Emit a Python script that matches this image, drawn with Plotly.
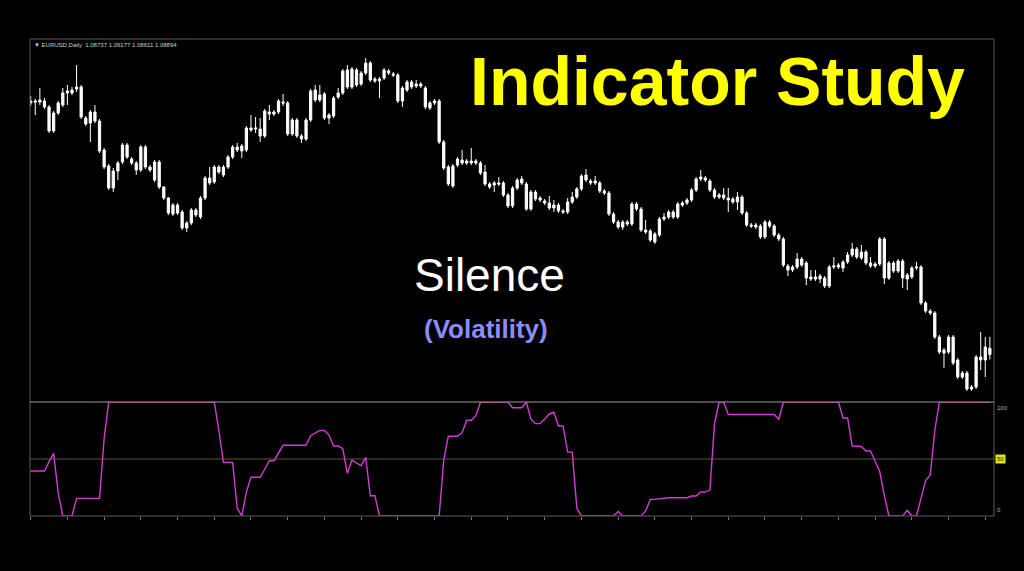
import plotly.graph_objects as go

# ---------------- data ----------------
bars = list(range(210))

opens = [
    1.15025, 1.15075, 1.1505, 1.15075, 1.14925, 1.14325, 1.14775, 1.14975, 1.15325, 1.15275,
    1.15375, 1.15425, 1.1465, 1.14525, 1.148, 1.14575, 1.1385, 1.1345, 1.129, 1.13325,
    1.1355, 1.13975, 1.13625, 1.13525, 1.1335, 1.13925, 1.13425, 1.131, 1.1355, 1.12925,
    1.1265, 1.1225, 1.12475, 1.123, 1.119, 1.12025, 1.1235, 1.12175, 1.1265, 1.1315,
    1.1305, 1.13425, 1.13225, 1.13425, 1.13675, 1.13925, 1.13825, 1.1385, 1.144, 1.14375,
    1.14375, 1.142, 1.148, 1.1475, 1.148, 1.1505, 1.15025, 1.1425, 1.146, 1.142,
    1.14125, 1.146, 1.1535, 1.151, 1.1525, 1.1465, 1.147, 1.15175, 1.15275, 1.1585,
    1.15425, 1.1585, 1.155, 1.15775, 1.16025, 1.15625, 1.15575, 1.1565, 1.15825, 1.1575,
    1.15725, 1.15075, 1.1535, 1.1555, 1.1545, 1.155, 1.154, 1.149, 1.15025, 1.15075,
    1.1405, 1.13425, 1.1295, 1.13475, 1.136, 1.13525, 1.13575, 1.13525, 1.13525, 1.133,
    1.13, 1.12975, 1.13025, 1.13025, 1.12725, 1.1245, 1.129, 1.13125, 1.13, 1.12375,
    1.128, 1.1265, 1.12575, 1.12525, 1.124, 1.12475, 1.12325, 1.123, 1.1255, 1.12675,
    1.12875, 1.13225, 1.13075, 1.13025, 1.13025, 1.12825, 1.12775, 1.1225, 1.1205, 1.11925,
    1.1205, 1.12, 1.125, 1.12375, 1.1185, 1.11825, 1.1155, 1.11725, 1.12125, 1.12175,
    1.123, 1.12175, 1.12475, 1.12525, 1.126, 1.1285, 1.13125, 1.1315, 1.13075, 1.1285,
    1.12675, 1.12725, 1.1265, 1.12625, 1.1255, 1.12675, 1.12275, 1.11975, 1.11925, 1.1195,
    1.11675, 1.1205, 1.1195, 1.11725, 1.11625, 1.1095, 1.1085, 1.10925, 1.11125, 1.11025,
    1.10675, 1.10625, 1.107, 1.1065, 1.1045, 1.10925, 1.10925, 1.109, 1.1105, 1.11225,
    1.11375, 1.1115, 1.113, 1.11025, 1.1095, 1.11, 1.11625, 1.1065, 1.11025, 1.10825,
    1.11075, 1.10725, 1.10675, 1.109, 1.10925, 1.10025, 1.09825, 1.09775, 1.09175, 1.08775,
    1.088, 1.09175, 1.086, 1.08175, 1.08275, 1.07875, 1.07925, 1.08675, 1.086, 1.08737,
]
highs = [
    1.152, 1.15125, 1.154, 1.1515, 1.14975, 1.14825, 1.15075, 1.154, 1.15475, 1.15425,
    1.15975, 1.15475, 1.147, 1.1485, 1.14975, 1.14625, 1.139, 1.135, 1.134, 1.13575,
    1.14025, 1.14025, 1.13675, 1.13575, 1.13975, 1.13975, 1.13475, 1.136, 1.136, 1.1295,
    1.12675, 1.12525, 1.12525, 1.1235, 1.12075, 1.124, 1.124, 1.127, 1.132, 1.13425,
    1.13475, 1.13475, 1.13475, 1.13725, 1.13975, 1.14025, 1.14, 1.1445, 1.14725, 1.14675,
    1.1465, 1.14875, 1.14975, 1.1485, 1.15125, 1.1525, 1.15075, 1.1465, 1.1465, 1.1425,
    1.1465, 1.15375, 1.15475, 1.15475, 1.153, 1.14775, 1.152, 1.154, 1.15875, 1.15975,
    1.15925, 1.159, 1.15825, 1.1615, 1.16075, 1.15675, 1.15675, 1.159, 1.15875, 1.158,
    1.15775, 1.1545, 1.156, 1.156, 1.156, 1.1555, 1.1545, 1.15075, 1.15125, 1.15125,
    1.141, 1.13475, 1.135, 1.13675, 1.1385, 1.13625, 1.139, 1.13625, 1.13575, 1.13475,
    1.1305, 1.13075, 1.13175, 1.13075, 1.12775, 1.1295, 1.1315, 1.132, 1.1305, 1.1285,
    1.1285, 1.127, 1.12625, 1.127, 1.126, 1.12525, 1.12375, 1.1265, 1.128, 1.12925,
    1.1325, 1.13375, 1.13125, 1.132, 1.13075, 1.12875, 1.12825, 1.123, 1.121, 1.121,
    1.121, 1.1255, 1.1255, 1.12425, 1.121, 1.11875, 1.118, 1.12175, 1.12275, 1.1235,
    1.1235, 1.1255, 1.12575, 1.1265, 1.129, 1.13175, 1.1335, 1.132, 1.13125, 1.129,
    1.12775, 1.129, 1.129, 1.12675, 1.128, 1.12725, 1.12325, 1.12025, 1.12025, 1.12,
    1.121, 1.121, 1.12, 1.11775, 1.11675, 1.11, 1.10975, 1.11275, 1.11175, 1.11075,
    1.1085, 1.1085, 1.1075, 1.107, 1.10975, 1.11175, 1.11025, 1.111, 1.113, 1.11525,
    1.11425, 1.11475, 1.1135, 1.11175, 1.1105, 1.11675, 1.11675, 1.11075, 1.11075, 1.11125,
    1.11125, 1.10775, 1.1095, 1.1105, 1.10975, 1.10075, 1.09875, 1.09825, 1.09225, 1.089,
    1.09225, 1.09225, 1.0865, 1.08325, 1.08325, 1.07975, 1.08725, 1.093, 1.09175, 1.09177,
]
lows = [
    1.1495, 1.14725, 1.14975, 1.14875, 1.14275, 1.14275, 1.14725, 1.14925, 1.14975, 1.15225,
    1.153, 1.14625, 1.1445, 1.1405, 1.14525, 1.13775, 1.13375, 1.1285, 1.128, 1.131,
    1.135, 1.13625, 1.13475, 1.13225, 1.133, 1.13375, 1.133, 1.1305, 1.12875, 1.126,
    1.12225, 1.122, 1.12225, 1.1185, 1.118, 1.11975, 1.12175, 1.12125, 1.126, 1.12975,
    1.13, 1.1325, 1.13175, 1.13375, 1.13625, 1.138, 1.1365, 1.138, 1.143, 1.14275,
    1.1405, 1.1415, 1.146, 1.147, 1.1475, 1.1495, 1.142, 1.142, 1.1415, 1.14025,
    1.14075, 1.1455, 1.1505, 1.1505, 1.146, 1.145, 1.1465, 1.15125, 1.15225, 1.15375,
    1.15375, 1.15425, 1.1545, 1.15725, 1.1555, 1.15525, 1.1515, 1.156, 1.15725, 1.15675,
    1.15025, 1.14925, 1.153, 1.15375, 1.154, 1.154, 1.14875, 1.1485, 1.14975, 1.14,
    1.1335, 1.1295, 1.129, 1.13425, 1.13475, 1.13475, 1.13475, 1.13475, 1.13225, 1.1295,
    1.12875, 1.128, 1.1295, 1.12675, 1.124, 1.124, 1.1285, 1.12975, 1.12325, 1.12325,
    1.12575, 1.1255, 1.12475, 1.1235, 1.123, 1.12275, 1.1225, 1.1225, 1.125, 1.12625,
    1.12825, 1.1305, 1.12975, 1.12975, 1.12775, 1.12725, 1.122, 1.12, 1.11875, 1.1185,
    1.1195, 1.1195, 1.12325, 1.118, 1.1175, 1.1155, 1.115, 1.11675, 1.12075, 1.12125,
    1.12125, 1.12125, 1.12425, 1.12475, 1.1255, 1.128, 1.13075, 1.1305, 1.128, 1.12625,
    1.12625, 1.126, 1.123, 1.125, 1.1235, 1.12225, 1.11925, 1.119, 1.11875, 1.11625,
    1.11625, 1.119, 1.11675, 1.11575, 1.10925, 1.107, 1.108, 1.10875, 1.10925, 1.10475,
    1.10575, 1.10575, 1.10525, 1.104, 1.104, 1.10875, 1.10875, 1.108, 1.11, 1.11175,
    1.11125, 1.111, 1.10975, 1.109, 1.109, 1.1095, 1.105, 1.106, 1.10775, 1.10775,
    1.104, 1.1035, 1.10625, 1.1085, 1.09975, 1.09775, 1.09725, 1.09125, 1.0875, 1.084,
    1.0875, 1.08475, 1.08125, 1.08125, 1.07825, 1.07825, 1.07875, 1.0835, 1.08175, 1.08611,
]
closes = [
    1.15075, 1.1505, 1.151, 1.14925, 1.14325, 1.14775, 1.15025, 1.15275, 1.15275, 1.1535,
    1.15425, 1.14675, 1.145, 1.148, 1.14575, 1.13825, 1.13425, 1.129, 1.13325, 1.13525,
    1.13975, 1.13675, 1.13525, 1.1335, 1.13925, 1.13425, 1.1335, 1.1355, 1.12925, 1.1265,
    1.12275, 1.12475, 1.12275, 1.119, 1.12025, 1.1235, 1.12225, 1.1265, 1.1315, 1.13025,
    1.13425, 1.133, 1.13425, 1.13675, 1.13925, 1.1385, 1.1395, 1.144, 1.1435, 1.144,
    1.142, 1.14825, 1.1475, 1.148, 1.15075, 1.15025, 1.1425, 1.146, 1.142, 1.14125,
    1.146, 1.15325, 1.151, 1.15225, 1.1465, 1.14725, 1.1515, 1.15275, 1.15825, 1.15425,
    1.15875, 1.15475, 1.15775, 1.16025, 1.156, 1.15575, 1.15625, 1.1585, 1.15775, 1.15725,
    1.15075, 1.154, 1.1555, 1.15425, 1.155, 1.1545, 1.14925, 1.15025, 1.15075, 1.1405,
    1.134, 1.13, 1.1345, 1.13625, 1.13525, 1.13575, 1.13525, 1.13575, 1.13275, 1.13,
    1.12925, 1.13025, 1.13, 1.12725, 1.1245, 1.129, 1.131, 1.13025, 1.12375, 1.128,
    1.12625, 1.126, 1.12525, 1.124, 1.12475, 1.12325, 1.123, 1.1255, 1.12675, 1.12875,
    1.132, 1.131, 1.13025, 1.13075, 1.12825, 1.12775, 1.1225, 1.1205, 1.11925, 1.1205,
    1.12, 1.125, 1.12375, 1.1185, 1.118, 1.116, 1.1175, 1.12125, 1.12175, 1.123,
    1.12175, 1.125, 1.12525, 1.126, 1.1285, 1.13125, 1.13175, 1.131, 1.1285, 1.12675,
    1.12725, 1.1265, 1.126, 1.1255, 1.12675, 1.12275, 1.11975, 1.1195, 1.11975, 1.11675,
    1.1205, 1.1195, 1.11725, 1.11625, 1.10975, 1.1085, 1.10925, 1.11125, 1.10975, 1.1065,
    1.10625, 1.10675, 1.10625, 1.1045, 1.10925, 1.1095, 1.10975, 1.1105, 1.11225, 1.11375,
    1.11175, 1.113, 1.11025, 1.1095, 1.11, 1.11625, 1.1065, 1.11025, 1.10825, 1.11075,
    1.1065, 1.10625, 1.109, 1.10925, 1.10025, 1.09825, 1.09775, 1.09175, 1.088, 1.0885,
    1.09175, 1.08525, 1.08175, 1.08275, 1.07875, 1.07925, 1.08675, 1.086, 1.08925, 1.08894,
]

silence = [
    39.5, 39.5, 39.5, 39.5, 47.7, 55, 20, 0, 0, 0,
    15.5, 15.5, 15.5, 15.5, 15.5, 15.5, 68, 100, 100, 100,
    100, 100, 100, 100, 100, 100, 100, 100, 100, 100,
    100, 100, 100, 100, 100, 100, 100, 100, 100, 100,
    100, 75, 47, 47, 47, 7, 0, 21, 34, 34,
    34, 41, 48.5, 48.5, 55, 62, 62, 62, 62, 62,
    62, 70.5, 73, 75, 75, 71, 61.4, 61.4, 59, 37.4,
    49, 46.5, 44, 51.5, 17.8, 17.8, 0, 0, 0, 0,
    0, 0, 0, 0, 0, 0, 0, 0, 0, 0,
    49, 70, 70, 70, 73, 84, 84, 88, 100, 100,
    100, 100, 100, 100, 100, 95, 95, 95, 100, 85,
    81, 81, 85, 89.5, 91, 79, 79, 56, 56, 7,
    0, 0, 0, 0, 0, 0, 0, 0, 4, 0,
    0, 0, 0, 0, 4.4, 14.6, 14.6, 15, 16, 16,
    16, 16, 16, 16, 17.5, 17.5, 21, 21, 23, 81,
    100, 100, 89, 89, 89, 89, 89, 89, 89, 89,
    89, 89, 89, 85, 100, 100, 100, 100, 100, 100,
    100, 100, 100, 100, 100, 100, 100, 86, 86, 61.4,
    61, 61, 57, 57, 48, 39, 18, 0, 0, 0,
    0, 5, 0, 0, 15.5, 31, 36, 75, 100, 100,
    100, 100, 100, 100, 100, 100, 100, 100, 100, 100,
]

level_ticks = ["100", "50", "0"]
level_values = [100, 50, 0]
header_text = "▼ EURUSD,Daily  1.08737 1.09177 1.08611 1.08894"
title_text = "Indicator Study"
name_text = "Silence"
sub_text = "(Volatility)"

# ---------------- figure ----------------
LOWER = 114 / 477
FONT = "Liberation Sans, Arial, Helvetica, sans-serif"

fig = go.Figure()
fig.add_trace(go.Candlestick(
    x=bars, open=opens, high=highs, low=lows, close=closes,
    increasing=dict(line=dict(color="#ffffff", width=1), fillcolor="#ffffff"),
    decreasing=dict(line=dict(color="#ffffff", width=1), fillcolor="#ffffff"),
    whiskerwidth=0, xaxis="x", yaxis="y", showlegend=False, hoverinfo="skip",
))
fig.add_trace(go.Scatter(
    x=bars, y=silence, mode="lines", line=dict(color="#d23cd2", width=1.4),
    xaxis="x2", yaxis="y2", showlegend=False, cliponaxis=False, hoverinfo="skip",
))

xr = [-0.15, 209.9]
fig.update_layout(
    width=1024, height=571,
    margin=dict(l=30, r=30, t=39, b=55),
    paper_bgcolor="#000000", plot_bgcolor="#000000",
    showlegend=False,
    xaxis=dict(domain=[0, 1], range=xr, anchor="y", visible=False,
               rangeslider=dict(visible=False)),
    yaxis=dict(domain=[LOWER, 1], range=[1.0755, 1.16625], visible=False),
    xaxis2=dict(domain=[0, 1], range=xr, anchor="y2", showticklabels=False,
                ticks="outside", ticklen=3, tickcolor="#777777", tick0=8, dtick=8,
                showgrid=False, zeroline=False, showline=False),
    yaxis2=dict(domain=[0, LOWER], range=[0, 100], visible=False),
    shapes=[
        dict(type="line", xref="paper", yref="y2", x0=0, x1=1, y0=50, y1=50,
             line=dict(color="#5a5a23", width=1), layer="below"),
        dict(type="rect", xref="paper", yref="paper", x0=0, x1=1, y0=0, y1=1,
             line=dict(color="#5c5c5c", width=1)),
        dict(type="line", xref="paper", yref="paper", x0=0, x1=1, y0=LOWER, y1=LOWER,
             line=dict(color="#9a9a9a", width=1)),
    ],
)

annos = [
    dict(text=header_text, xref="paper", yref="paper", x=0, y=1, xanchor="left",
         yanchor="top", xshift=2, yshift=-1, showarrow=False,
         font=dict(family=FONT, size=6, color="#cfcfcf")),
    dict(text=title_text, xref="paper", yref="paper", x=0.7127, y=0.912,
         xanchor="center", yanchor="middle", showarrow=False,
         font=dict(family=FONT, size=68, color="#ffff00", weight="bold")),
    dict(text=name_text, xref="paper", yref="paper", x=0.477, y=0.505,
         xanchor="center", yanchor="middle", showarrow=False,
         font=dict(family=FONT, size=46, color="#ffffff")),
    dict(text=sub_text, xref="paper", yref="paper", x=0.4735, y=0.392,
         xanchor="center", yanchor="middle", showarrow=False,
         font=dict(family=FONT, size=26, color="#8c8cff", weight="bold")),
]
for lab, val in zip(level_ticks, level_values):
    a = dict(text=lab, xref="paper", yref="y2", x=1, y=val, xanchor="left",
             showarrow=False, xshift=1,
             font=dict(family=FONT, size=6, color="#b0b0b0"))
    if val == 100:
        a.update(yanchor="top", yshift=-1)
    elif val == 0:
        a.update(yanchor="bottom", yshift=1)
    else:
        a.update(yanchor="middle", bgcolor="#e6e600", borderpad=1,
                 font=dict(family=FONT, size=6, color="#202020"))
    annos.append(a)
fig.update_layout(annotations=annos)

fig.write_html(
    "out.html",
    config={"displayModeBar": False},
    post_script="document.body.style.margin='0';document.body.style.background='#000';",
)
